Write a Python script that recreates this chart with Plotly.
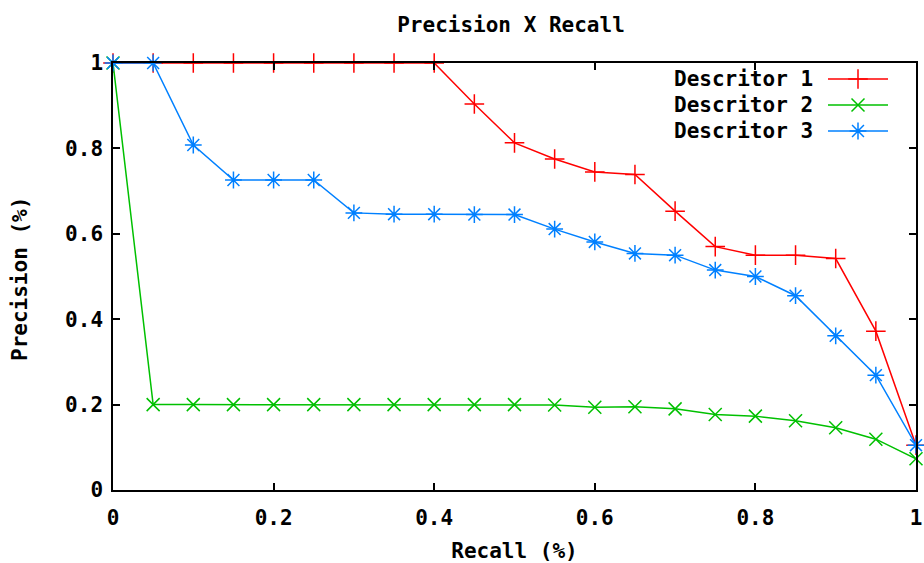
import plotly.graph_objects as go

# Recall levels (x) shared by all three descriptors
recall = [0.00, 0.05, 0.10, 0.15, 0.20, 0.25, 0.30, 0.35, 0.40, 0.45, 0.50,
          0.55, 0.60, 0.65, 0.70, 0.75, 0.80, 0.85, 0.90, 0.95, 1.00]

# Precision values per descriptor
descritor_1 = [1.0, 1.0, 1.0, 1.0, 1.0, 1.0, 1.0, 1.0, 1.0, 0.904, 0.813,
               0.775, 0.745, 0.739, 0.653, 0.570, 0.550, 0.550, 0.542, 0.372, 0.105]
descritor_2 = [1.0, 0.20, 0.20, 0.20, 0.20, 0.20, 0.20, 0.20, 0.20, 0.20, 0.20,
               0.199, 0.194, 0.195, 0.190, 0.177, 0.173, 0.162, 0.146, 0.119, 0.073]
descritor_3 = [1.0, 1.0, 0.808, 0.726, 0.726, 0.726, 0.649, 0.646, 0.646, 0.645, 0.645,
               0.611, 0.581, 0.554, 0.550, 0.515, 0.500, 0.455, 0.361, 0.269, 0.105]

series_names = ["Descritor 1", "Descritor 2", "Descritor 3"]
series_values = [descritor_1, descritor_2, descritor_3]
colors = ["#ff0000", "#00c000", "#0080ff"]
symbols = ["cross-thin", "x-thin", "asterisk"]
sizes = [14, 13, 14]

tick_vals = [0, 0.2, 0.4, 0.6, 0.8, 1]
tick_text = ["0", "0.2", "0.4", "0.6", "0.8", "1"]

FONT = "DejaVu Sans Mono"
FSIZE = 21
W, H = 924, 563
ML, MR, MT, MB = 113, 8, 63, 73
PLOT_L, PLOT_R, PLOT_T, PLOT_B = ML, W - MR, MT, H - MB


def tfont():
    return dict(family=FONT, size=FSIZE, color="black", weight="bold")


fig = go.Figure()

for name, vals, col, sym, sz in zip(series_names, series_values, colors, symbols, sizes):
    fig.add_trace(go.Scatter(
        x=recall, y=vals, mode="lines+markers", name=name, showlegend=False,
        line=dict(color=col, width=1.5),
        marker=dict(symbol=sym, size=sz, color=col, line=dict(color=col, width=1.5)),
        cliponaxis=False,
    ))

# Key drawn gnuplot-style: label on the left, sample line with marker on the right.
# The overlay axes x2/y2 are scaled in screen pixels of the plotting area.
key_top_px = 79
key_step_px = 26
sample_x0, sample_x1 = 828, 888
for i, (name, col, sym, sz) in enumerate(zip(series_names, colors, symbols, sizes)):
    ypx = key_top_px + i * key_step_px
    fig.add_trace(go.Scatter(
        x=[sample_x0, sample_x1], y=[ypx, ypx], xaxis="x2", yaxis="y2",
        mode="lines", line=dict(color=col, width=1.5), showlegend=False,
        hoverinfo="skip", cliponaxis=False,
    ))
    fig.add_trace(go.Scatter(
        x=[(sample_x0 + sample_x1) / 2], y=[ypx], xaxis="x2", yaxis="y2",
        mode="markers",
        marker=dict(symbol=sym, size=sz, color=col, line=dict(color=col, width=1.5)),
        showlegend=False, hoverinfo="skip", cliponaxis=False,
    ))
    fig.add_annotation(
        x=815, y=ypx, xref="x2", yref="y2", xanchor="right", yanchor="middle",
        text=name, showarrow=False, font=tfont(),
    )

# Vertical axis title placed at a fixed spot left of the tick labels
fig.add_annotation(
    x=(20 - PLOT_L) / (PLOT_R - PLOT_L), y=(PLOT_B - 279) / (PLOT_B - PLOT_T),
    xref="paper", yref="paper", xanchor="center", yanchor="middle",
    text="Precision (%)", textangle=-90, showarrow=False, font=tfont(),
)

axis_common = dict(
    showgrid=False, zeroline=False, showline=True, linecolor="black", linewidth=1.5,
    mirror="ticks", ticks="inside", ticklen=7, tickwidth=1.5, tickcolor="black",
    tickvals=tick_vals, ticktext=tick_text, tickfont=tfont(), automargin=False,
)

fig.update_layout(
    width=W, height=H,
    margin=dict(l=ML, r=MR, t=MT, b=MB),
    paper_bgcolor="white", plot_bgcolor="white",
    title=dict(text="Precision X Recall", x=511 / W, xanchor="center", y=1 - 25 / H,
               yanchor="middle", font=tfont()),
    xaxis=dict(range=[0, 1], ticklabelstandoff=8, **axis_common,
               title=dict(text="Recall (%)", standoff=16, font=tfont())),
    yaxis=dict(range=[0, 1], ticklabelstandoff=4, **axis_common),
    xaxis2=dict(range=[PLOT_L, PLOT_R], overlaying="x", visible=False, anchor="y2"),
    yaxis2=dict(range=[PLOT_B, PLOT_T], overlaying="y", visible=False, anchor="x2"),
    showlegend=False,
)

fig.write_html("out.html")
